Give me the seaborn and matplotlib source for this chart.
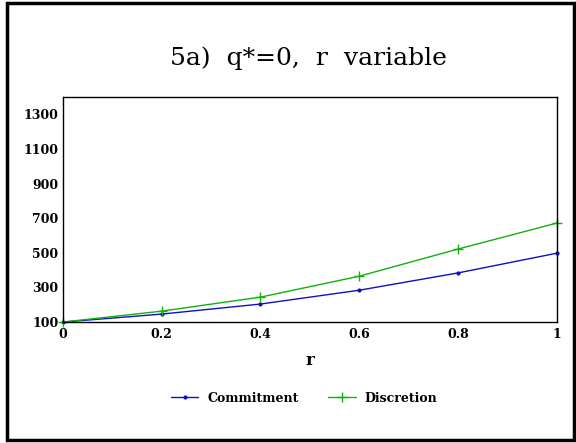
import matplotlib
matplotlib.use("Agg")
import matplotlib.pyplot as plt
import seaborn as sns
import pandas as pd
from matplotlib.patches import Rectangle
from matplotlib.lines import Line2D

r_values = [0, 0.2, 0.4, 0.6, 0.8, 1.0]
commitment = [100, 146, 204, 284, 384, 498]
discretion = [100, 163, 244, 365, 522, 672]
y_ticks = [100, 300, 500, 700, 900, 1100, 1300]
x_ticks = [0, 0.2, 0.4, 0.6, 0.8, 1]
x_tick_labels = ["0", "0.2", "0.4", "0.6", "0.8", "1"]

df_c = pd.DataFrame({"r": r_values, "value": commitment})
df_d = pd.DataFrame({"r": r_values, "value": discretion})

sns.set_style("white")
plt.rcParams["font.family"] = ["DejaVu Serif"]
plt.rcParams["text.color"] = "black"
plt.rcParams["axes.labelcolor"] = "black"

fig = plt.figure(figsize=(5.76, 4.43), dpi=100)
ax = fig.add_axes([0.109, 0.273, 0.858, 0.508])

c_col = "#1010c0"
d_col = "#10b010"
sns.lineplot(data=df_c, x="r", y="value", color=c_col, marker="o", markersize=3,
             markeredgewidth=0, linewidth=1.0, ax=ax, clip_on=False)
sns.lineplot(data=df_d, x="r", y="value", color=d_col, marker="+", markersize=7,
             markeredgewidth=1.0, markeredgecolor=d_col, linewidth=1.0, ax=ax,
             clip_on=False)

ax.set_xlim(0, 1)
ax.set_ylim(100, 1400)
ax.set_xticks(x_ticks)
ax.set_xticklabels(x_tick_labels)
ax.set_yticks(y_ticks)
ax.tick_params(direction="in", length=6, width=1, colors="black", labelsize=9)
for lab in ax.get_xticklabels() + ax.get_yticklabels():
    lab.set_fontweight("bold")
ax.tick_params(axis="x", pad=4)
ax.tick_params(axis="y", pad=3)
for s in ax.spines.values():
    s.set_color("black")
    s.set_linewidth(1.0)
ax.set_xlabel("r", fontweight="bold", fontsize=12, labelpad=8, color="black")
ax.set_ylabel("")

fig.text(0.536, 0.868, "5a)  q*=0,  r  variable", ha="center", va="center",
         fontsize=18, color="black")

handles = [Line2D([], [], color=c_col, marker="o", markersize=3, markeredgewidth=0, lw=1.0),
           Line2D([], [], color=d_col, marker="+", markersize=7, markeredgecolor=d_col, lw=1.0)]
fig.legend(handles, ["Commitment", "Discretion"], loc="center",
           bbox_to_anchor=(0.528, 0.101), ncol=2, frameon=False,
           prop={"weight": "bold", "size": 9}, handlelength=2.2, handletextpad=0.7,
           columnspacing=2.4, labelcolor="black")

fig.patches.append(Rectangle((7/576, 3/443), 567/576, 437/443, transform=fig.transFigure,
                             fill=False, edgecolor="black", linewidth=2.5))

fig.savefig("out.png", dpi=100)
